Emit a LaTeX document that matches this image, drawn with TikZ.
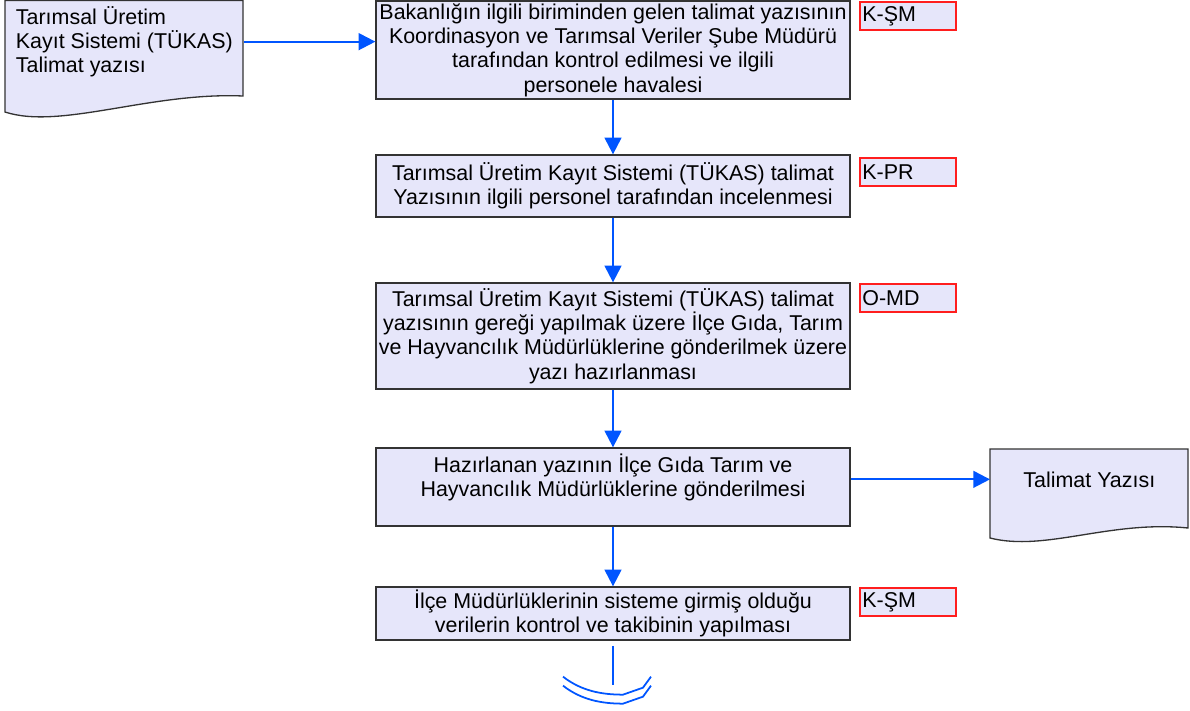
\documentclass[tikz,border=0pt]{standalone}
\usepackage{fontspec}
\setmainfont{Liberation Sans}
\usetikzlibrary{arrows.meta}

\definecolor{kutuzemin}{RGB}{230,230,250}
\definecolor{akismavi}{RGB}{0,85,255}
\definecolor{etiketkirmizi}{RGB}{255,30,30}

\begin{document}
\begin{tikzpicture}[x=0.02cm,y=-0.02cm,
    font={\fontsize{12.2}{13.8}\selectfont},
    kutu/.style={draw=black!80, fill=kutuzemin, line width=0.75pt, minimum width=9.48cm, inner xsep=0pt, inner ysep=0pt, align=center},
    etiket/.style={draw=etiketkirmizi, fill=kutuzemin, line width=1pt, anchor=north west, minimum height=0.56cm, text width=1.82cm, inner xsep=0.05cm, inner ysep=0pt, align=left},
    belge/.style={draw=black!80, fill=kutuzemin, line width=0.75pt},
    akis/.style={draw=akismavi, line width=1.3pt, -{Triangle[length=9.5pt,width=9.5pt]}}]
      \useasboundingbox (0,0) rectangle (1190,710);

      % belgeler
      \draw[belge] (5,0.5) -- (5,112) .. controls (60,130) and (150,92) .. (243,96) -- (243,0.5) -- cycle;
      \node[anchor=north west, minimum width=4.76cm, minimum height=1.56cm, inner xsep=0pt, align=left] (tukasyazi) at (5,0)
        {Tarımsal Üretim\\Kayıt Sistemi (TÜKAS)\\Talimat yazısı};
      \draw[belge] (990,449) -- (1188,449) -- (1188,528) .. controls (1110,520) and (1045,552) .. (990,538) -- cycle;
      \node[anchor=north west, minimum width=3.96cm, minimum height=1.2cm] (talimat) at (990,449) {Talimat Yazısı};

      % kutular
      \node[kutu, minimum height=1.96cm] (bakanlik) at (613,50)
        {Bakanlığın ilgili biriminden gelen talimat yazısının\\Koordinasyon ve Tarımsal Veriler Şube Müdürü\\tarafından kontrol edilmesi ve ilgili\\personele havalesi};
      \node[kutu, minimum height=1.24cm] (inceleme) at (613,186)
        {Tarımsal Üretim Kayıt Sistemi (TÜKAS) talimat\\Yazısının ilgili personel tarafından incelenmesi};
      \node[kutu, minimum height=2.12cm] (hazirlik) at (613,336)
        {Tarımsal Üretim Kayıt Sistemi (TÜKAS) talimat\\yazısının gereği yapılmak üzere İlçe Gıda, Tarım\\ve Hayvancılık Müdürlüklerine gönderilmek üzere\\yazı hazırlanması};
      \node[kutu, minimum height=1.56cm] (gonderim) at (613,487)
        {Hazırlanan yazının İlçe Gıda Tarım ve\\Hayvancılık Müdürlüklerine gönderilmesi\\ \mbox{}};
      \node[kutu, minimum height=1.06cm] (takip) at (613,613.5)
        {İlçe Müdürlüklerinin sisteme girmiş olduğu\\verilerin kontrol ve takibinin yapılması};

      \foreach \ad/\y/\kod in {etiketA/1/K-ŞM, etiketB/157/K-PR, etiketC/283/O-MD, etiketD/587/K-ŞM}
        \node[etiket] (\ad) at (859,\y) {\kod};

      % akislar
      \draw[akis] (tukasyazi.east) -- (tukasyazi.east -| bakanlik.west);
      \foreach \ust/\alt in {bakanlik/inceleme, inceleme/hazirlik, hazirlik/gonderim, gonderim/takip}
        \draw[akis] (\ust.south) -- (\alt.north);
      \draw[akis] (talimat.west -| gonderim.east) -- (talimat.west);

      \path (takip.south) ++(0,44) coordinate (sayfasonu);
      \draw[akismavi, line width=1.3pt, shorten <=3pt] (takip.south) -- (sayfasonu);
      \begin{scope}[shift={(sayfasonu)}]
        \foreach \dy in {0,9}
          \draw[akismavi, line width=1pt] (-50,-8+\dy) .. controls (-32,6+\dy) and (-12,10+\dy) .. (10,10+\dy) -- (30,3+\dy) -- (38,-8+\dy);
      \end{scope}
    \end{tikzpicture}
\end{document}
